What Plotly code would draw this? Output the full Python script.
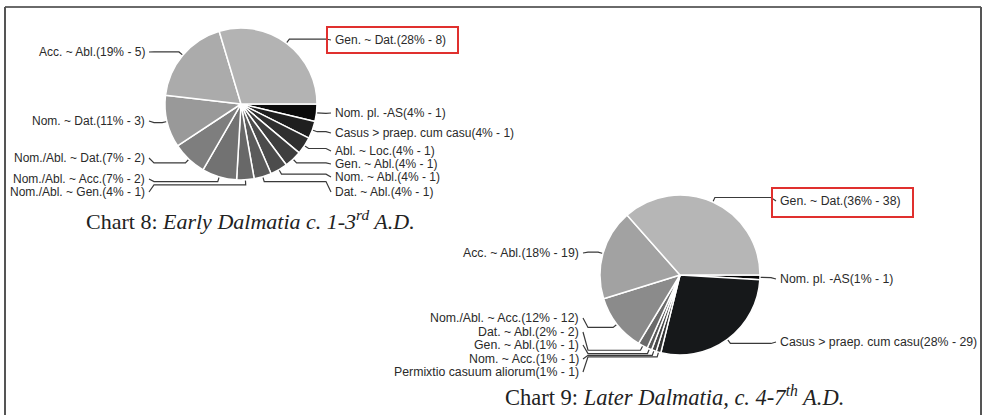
import math
import plotly.graph_objects as go

W, H = 983, 415

# ---------------- Chart 8 data ----------------
c8_names = ["Gen. ~ Dat.", "Acc. ~ Abl.", "Nom. ~ Dat.", "Nom./Abl. ~ Dat.",
            "Nom./Abl. ~ Acc.", "Nom./Abl. ~ Gen.", "Dat. ~ Abl.", "Nom. ~ Abl.",
            "Gen. ~ Abl.", "Abl. ~ Loc.", "Casus > praep. cum casu", "Nom. pl. -AS"]
c8_counts = [8, 5, 3, 2, 2, 1, 1, 1, 1, 1, 1, 1]
c8_pcts = [28, 19, 11, 7, 7, 4, 4, 4, 4, 4, 4, 4]
c8_colors = ["#b3b3b3", "#ababab", "#999999", "#7e7e7e", "#727272", "#686868",
             "#5b5b5b", "#4c4c4c", "#3e3e3e", "#2f2f2f", "#1f1f1f", "#0b0b0b"]
c8_label_y = [40, 52, 121, 158, 179, 192, 192, 177, 164, 151, 133, 113]
c8_side = ["R", "L", "L", "L", "L", "L", "R", "R", "R", "R", "R", "R"]

# ---------------- Chart 9 data ----------------
c9_names = ["Gen. ~ Dat.", "Acc. ~ Abl.", "Nom./Abl. ~ Acc.", "Dat. ~ Abl.",
            "Gen. ~ Abl.", "Nom. ~ Acc.", "Permixtio casuum aliorum",
            "Casus > praep. cum casu", "Nom. pl. -AS"]
c9_counts = [38, 19, 12, 2, 1, 1, 1, 29, 1]
c9_pcts = [36, 18, 12, 2, 1, 1, 1, 28, 1]
c9_colors = ["#b6b6b6", "#a2a2a2", "#8b8b8b", "#6a6a6a", "#585858", "#474747",
             "#363636", "#16181a", "#050505"]
c9_label_y = [201, 253, 318, 332, 345, 359, 372, 342, 279]
c9_side = ["R", "L", "L", "L", "L", "L", "L", "R", "R"]

# ---------------- layout constants (pixels) ----------------
charts = [
    dict(names=c8_names, counts=c8_counts, pcts=c8_pcts, colors=c8_colors,
         ly=c8_label_y, side=c8_side, cx=241, cy=104, r=76,
         xl=147, xr=333, fs=12),
    dict(names=c9_names, counts=c9_counts, pcts=c9_pcts, colors=c9_colors,
         ly=c9_label_y, side=c9_side, cx=680, cy=275, r=80,
         xl=581, xr=778, fs=12.3),
]

fig = go.Figure()
annotations = []

for ch in charts:
    cx, cy, r = ch["cx"], ch["cy"], ch["r"]
    # slices run counter-clockwise from 3 o'clock: draw the reversed order clockwise
    fig.add_trace(go.Pie(
        labels=ch["names"][::-1], values=ch["counts"][::-1], sort=False,
        direction="clockwise", rotation=90,
        marker=dict(colors=ch["colors"][::-1], line=dict(color="white", width=1.5)),
        textinfo="none", hoverinfo="skip", showlegend=False,
        domain=dict(x=[(cx - r) / W, (cx + r) / W],
                    y=[1 - (cy + r) / H, 1 - (cy - r) / H]),
    ))
    total = sum(ch["counts"])
    start = 0.0
    lx, lyy = [], []
    for name, v, p, y, s in zip(ch["names"], ch["counts"], ch["pcts"], ch["ly"], ch["side"]):
        span = v / total * 360.0
        mid = math.radians(start + span / 2)
        start += span
        ex, ey = cx + r * math.cos(mid), cy - r * math.sin(mid)
        qx, qy = cx + (r + 5) * math.cos(mid), cy - (r + 5) * math.sin(mid)
        if s == "R":
            tx = ch["xr"]
            kx = tx - 7
            ax = tx - 2
            xanchor = "left"
        else:
            tx = ch["xl"]
            kx = tx + 7
            ax = tx + 2
            xanchor = "right"
        lx += [ex, qx, kx, ax, None]
        lyy += [ey, qy, qy, y, None]
        annotations.append(dict(
            x=tx, y=y, xref="x", yref="y", xanchor=xanchor, yanchor="middle",
            text=f"{name}({p}% - {v})", showarrow=False,
            font=dict(family="Liberation Sans, Arial, sans-serif", size=ch["fs"], color="#2a2a2a"),
        ))
    fig.add_trace(go.Scatter(x=lx, y=lyy, mode="lines",
                             line=dict(color="#3a3a3a", width=1.2),
                             hoverinfo="skip", showlegend=False))

# captions
annotations.append(dict(x=250, y=220, xref="x", yref="y", showarrow=False,
                        text="Chart 8: <i>Early Dalmatia c. 1-3<sup>rd</sup> A.D.</i>",
                        font=dict(family="Liberation Serif, Times New Roman, serif", size=22, color="#222222")))
annotations.append(dict(x=674, y=396, xref="x", yref="y", showarrow=False,
                        text="Chart 9: <i>Later Dalmatia, c. 4-7<sup>th</sup> A.D.</i>",
                        font=dict(family="Liberation Serif, Times New Roman, serif", size=22.5, color="#222222")))

shapes = [
    # frame
    dict(type="line", xref="x", yref="y", x0=5, y0=7, x1=981, y1=7, line=dict(color="#6a6a6a", width=2)),
    dict(type="line", xref="x", yref="y", x0=5, y0=7, x1=5, y1=415, line=dict(color="#555555", width=2)),
    dict(type="line", xref="x", yref="y", x0=981, y0=7, x1=981, y1=415, line=dict(color="#555555", width=2)),
    # highlight boxes
    dict(type="rect", xref="x", yref="y", x0=327, y0=27, x1=458, y1=53, line=dict(color="#e0302e", width=2)),
    dict(type="rect", xref="x", yref="y", x0=772, y0=188, x1=913, y1=217, line=dict(color="#e0302e", width=2)),
]

fig.update_layout(
    width=W, height=H, margin=dict(l=0, r=0, t=0, b=0),
    paper_bgcolor="white", plot_bgcolor="rgba(0,0,0,0)",
    xaxis=dict(range=[0, W], visible=False, fixedrange=True, domain=[0, 1]),
    yaxis=dict(range=[H, 0], visible=False, fixedrange=True, domain=[0, 1]),
    annotations=annotations, shapes=shapes,
)

fig.write_html("out.html", config={"displayModeBar": False},
               post_script="document.body.style.margin='0px';document.body.style.overflow='hidden';")
